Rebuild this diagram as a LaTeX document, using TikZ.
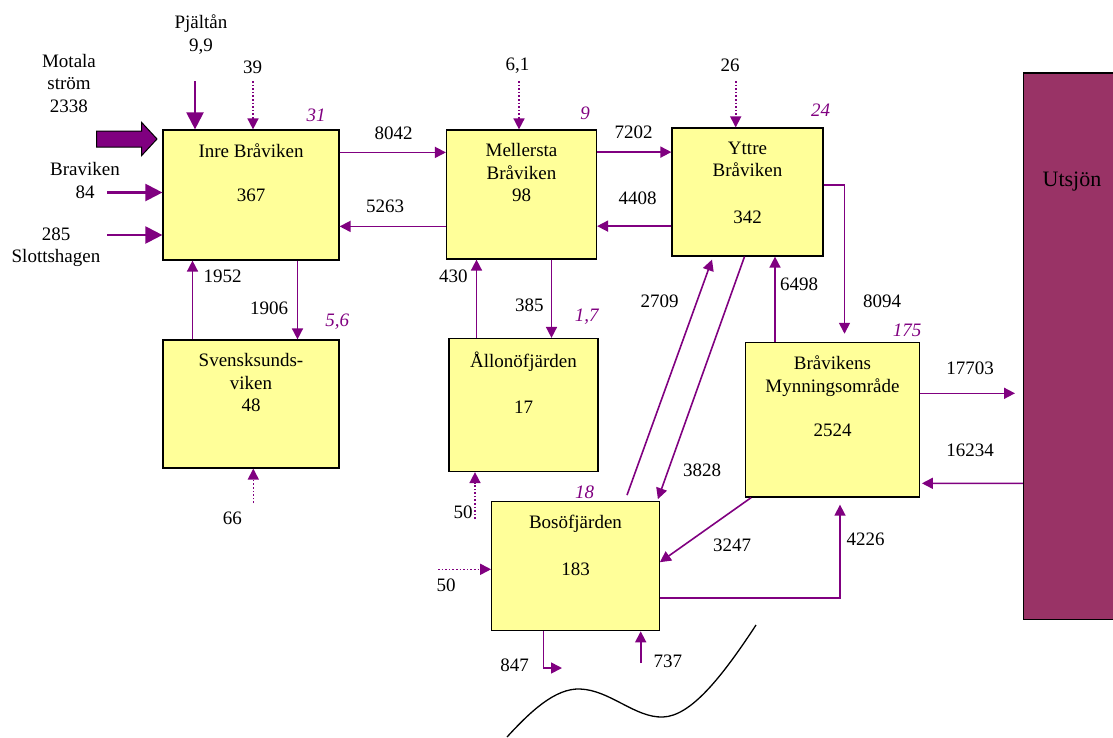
\documentclass[tikz,border=0pt]{standalone}
\usepackage{fontspec}
\setmainfont{Liberation Serif}
\usetikzlibrary{arrows.meta}
\definecolor{flowpurple}{HTML}{800080}
\definecolor{basinyellow}{HTML}{FFFF99}
\definecolor{seamaroon}{HTML}{993366}

\begin{document}
\begin{tikzpicture}[x=1pt,y=-1pt,
  font=\fontsize{19}{22.5}\selectfont,
  basin/.style={draw=black, line width=1.2pt, fill=basinyellow, inner sep=0pt},
  basintext/.style={anchor=north, align=center, inner sep=0pt, yshift=-14pt},
  flow/.style={draw=flowpurple, line width=1.6pt, -{Triangle[length=11pt,width=11pt]}},
  bigflow/.style={draw=flowpurple, line width=2.2pt, -{Triangle[length=17pt,width=17pt]}},
  dotflow/.style={flow, dotted},
  vol/.style={text=flowpurple, font=\fontsize{19}{22.5}\selectfont\itshape}]
\useasboundingbox (0,0) rectangle (1113,737);

% basins
\node[basin, minimum width=176pt, minimum height=130pt,
  label={[basintext]north:Inre Bråviken\\[22pt]367}] (inre) at (251,195) {};
\node[basin, minimum width=150pt, minimum height=129pt,
  label={[basintext]north:Mellersta\\Bråviken\\98}] (mell) at (521.5,194.5) {};
\node[basin, minimum width=151pt, minimum height=128pt,
  label={[basintext]north:Yttre\\Bråviken\\[24pt]342}] (yttre) at (747.5,192) {};
\node[basin, minimum width=176pt, minimum height=128pt,
  label={[basintext]north:Svensksunds-\\viken\\48}] (svensk) at (251,404) {};
\node[basin, minimum width=149pt, minimum height=133pt,
  label={[basintext]north:Ållonöfjärden\\[23pt]17}] (allon) at (523.5,405) {};
\node[basin, minimum width=167.6pt, minimum height=129pt,
  label={[basintext]north:Bosöfjärden\\[24pt]183}] (boso) at (575.5,566.2) {};
\node[basin, minimum width=173.6pt, minimum height=154.7pt,
  label={[basintext]north:Bråvikens\\Mynningsområde\\[22pt]2524}] (mynn) at (832.5,419.7) {};
\node[draw=black, line width=1.2pt, fill=seamaroon, minimum width=106.5pt,
  minimum height=546.3pt, inner sep=0pt] (utsjon) at (1076.75,346.15) {};
\node[font=\fontsize{22}{26}\selectfont] (utsjontxt) at (1072,182) {Utsjön};

% volumes
\node[vol] (v31) at (316,115) {31};
\node[vol] (v9) at (585,113) {9};
\node[vol] (v24) at (820.7,110) {24};
\node[vol] (v56) at (337.3,321.7) {5,6};
\node[vol] (v17) at (586.7,316.7) {1,7};
\node[vol] (v18) at (584.5,492) {18};
\node[vol] (v175) at (907,330.7) {175};

% inflows
\node[align=center] (motala) at (69,83) {Motala\\ström\\2338};
\node[align=center] (pjaltan) at (201,34.5) {Pjältån\\9,9};
\node (l39) at (252.5,67.7) {39};
\node[align=center] (braviken) at (85,180.7) {Braviken\\84};
\node[align=center] (slotts) at (56,247) {285\\Slottshagen};
\node (l61) at (517.5,66) {6,1};
\node (l26) at (730,65.7) {26};
\node (l66) at (232.3,518.3) {66};
\node (l50a) at (463,512) {50};
\node (l50b) at (446,585) {50};
\node (l847) at (514.5,665.7) {847};
\node (l737) at (667.8,661) {737};

\draw[fill=flowpurple, draw=black, line width=1pt] (96.7,131) -- (141.7,131) -- (141.7,122.5)
  -- (157,139) -- (141.7,155.5) -- (141.7,147) -- (96.7,147) -- cycle;

\coordinate (pjal-s) at (195,81);
\coordinate (s39) at (253,81);
\coordinate (brav-s) at (107,192.5);
\coordinate (slot-s) at (107,235);
\coordinate (s61) at (519,81);
\coordinate (s26) at (735.7,81);
\coordinate (s66) at (253.3,503);
\coordinate (s50a) at (475,519);
\coordinate (s50b) at (438,569.3);
\coordinate (e847) at (562,668);
\coordinate (s737) at (640.7,663);
\coordinate (sea-in) at (1015,393.3);

\draw[bigflow] (pjal-s) -- (pjal-s |- inre.north);
\draw[dotflow] (s39) -- (s39 |- inre.north);
\draw[bigflow] (brav-s) -- (brav-s -| inre.west);
\draw[bigflow] (slot-s) -- (slot-s -| inre.west);
\draw[dotflow] (s61) -- (s61 |- mell.north);
\draw[dotflow] (s26) -- (s26 |- yttre.north);
\draw[dotflow] (s66) -- (s66 |- svensk.south);
\draw[dotflow] (s50a) -- (s50a |- allon.south);
\draw[dotflow] (s50b) -- (s50b -| boso.west);
\draw[flow] ([xshift=-32pt]boso.south) |- (e847);
\draw[flow] (s737) -- (s737 |- boso.south);

% exchange between basins
\draw[flow] ([yshift=-23pt]inre.north east) -- ([yshift=-23pt]mell.north west);
\draw[flow] ([yshift=-97pt]mell.north west) -- ([yshift=-97pt]inre.north east);
\draw[flow] ([yshift=-22.7pt]mell.north east) -- ([yshift=-24.7pt]yttre.north west);
\draw[flow] ([yshift=-98.7pt]yttre.north west) -- ([yshift=-96.7pt]mell.north east);
\draw[flow] ([xshift=46.5pt]inre.south) -- ([xshift=46.5pt]svensk.north);
\draw[flow] ([xshift=-58.5pt]svensk.north) -- ([xshift=-58.5pt]inre.south);
\draw[flow] ([xshift=30pt]mell.south) -- ([xshift=28pt]allon.north);
\draw[flow] ([xshift=-47pt]allon.north) -- ([xshift=-45pt]mell.south);
\draw[flow] ([xshift=51.5pt,yshift=6pt]boso.north) -- ([xshift=-35.5pt,yshift=-3pt]yttre.south);
\draw[flow] ([xshift=-3pt]yttre.south) -- ([xshift=-2pt,yshift=2pt]boso.north east);
\draw[flow] ([xshift=-57.5pt]mynn.north) -- ([xshift=27.5pt]yttre.south);
\draw[flow] ([yshift=-57.5pt]yttre.north east) -| ([xshift=12pt,yshift=8pt]mynn.north);
\draw[flow] ([xshift=6pt]mynn.south west) -- ([yshift=4pt]boso.east);
\draw[flow] ([yshift=-32pt]boso.east) -| ([xshift=7.5pt,yshift=-7pt]mynn.south);
\draw[flow] (sea-in -| mynn.east) -- (sea-in);
\draw[flow] ([yshift=-137.2pt]utsjon.west) -- ([xshift=2pt,yshift=-63.6pt]mynn.east);

% flow values
\node (f8042) at (393.5,133) {8042};
\node (f5263) at (385,206.7) {5263};
\node (f7202) at (633.5,132.7) {7202};
\node (f4408) at (637.5,198) {4408};
\node (f1952) at (222.7,276.7) {1952};
\node (f1906) at (269,308.3) {1906};
\node (f430) at (453.3,276.7) {430};
\node (f385) at (529.3,305) {385};
\node (f2709) at (659.7,301) {2709};
\node (f6498) at (799,284.3) {6498};
\node (f8094) at (882,301) {8094};
\node (f3828) at (702,470) {3828};
\node (f3247) at (732,545) {3247};
\node (f4226) at (865.7,539.3) {4226};
\node (f17703) at (970,368) {17703};
\node (f16234) at (970,450) {16234};

% coast line
\draw[black, line width=1.3pt] (507,737) .. controls (530,712) and (555,688) .. (580,689)
  .. controls (610,690) and (635,718) .. (663,717) .. controls (690,716) and (720,680) .. (756,625);
\end{tikzpicture}
\end{document}
